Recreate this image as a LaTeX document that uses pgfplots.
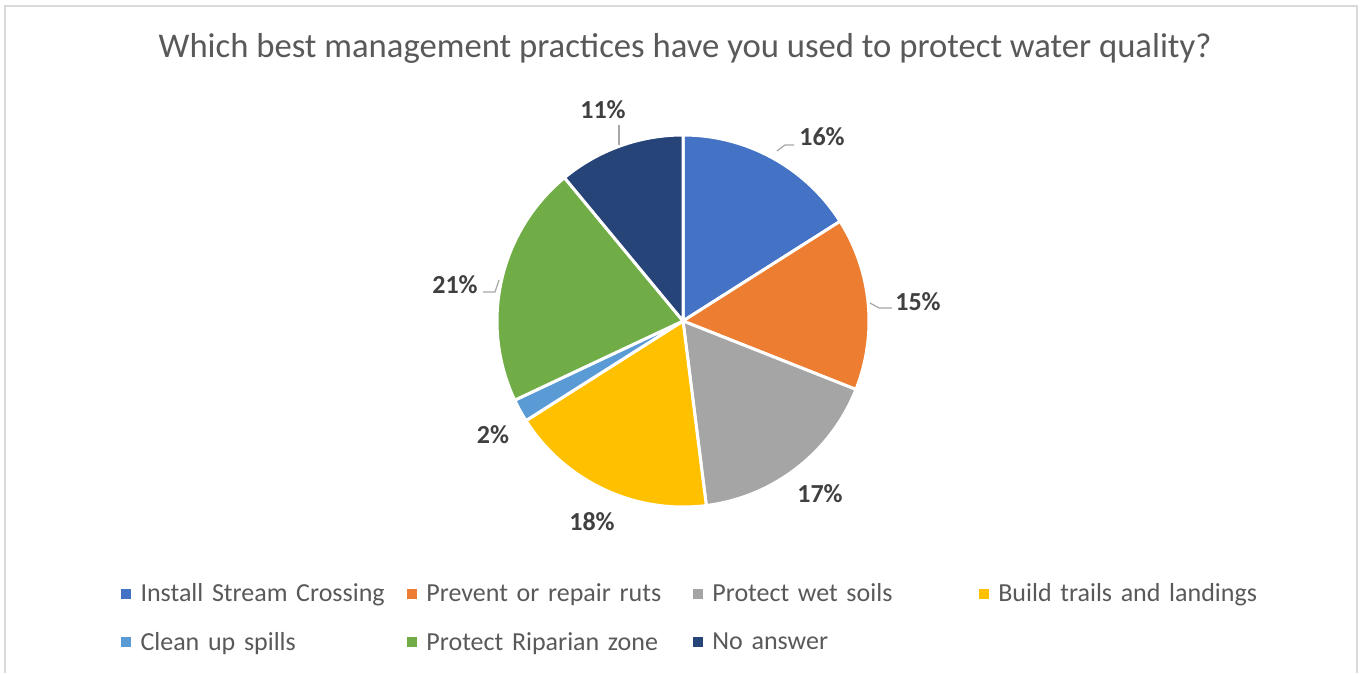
\documentclass[border=0pt]{standalone}
\usepackage{pgfplots}
\usepackage{pgfplotstable}
\usepackage{fontspec}
\setmainfont{Carlito}
\pgfplotsset{compat=1.18}
\definecolor{c0}{HTML}{4472C4}
\definecolor{c1}{HTML}{ED7D31}
\definecolor{c2}{HTML}{A5A5A5}
\definecolor{c3}{HTML}{FFC000}
\definecolor{c4}{HTML}{5B9BD5}
\definecolor{c5}{HTML}{70AD47}
\definecolor{c6}{HTML}{264478}
\definecolor{txt}{HTML}{595959}
\definecolor{lab}{HTML}{404040}
\definecolor{lead}{HTML}{A6A6A6}
\definecolor{frame}{HTML}{D9D9D9}
\pgfplotsset{sqlegend/.style={legend image code/.code={\fill[##1, draw=none] (0pt,-3.6pt) rectangle (7.2pt,3.6pt);}}}
% value, label x, label y (pixels from top)
\pgfplotstableread{
value lx ly
16 822 137
15 918 302
17 820 494
18 592 522
2 493 435
21 455 285
11 603 110
}\piedata
\begin{document}
\begin{tikzpicture}
\begin{axis}[
  width=1022.25pt, height=504.75pt, scale only axis,
  xmin=0, xmax=1363, ymin=0, ymax=673,
  hide axis, clip=false,
  legend columns=4,
  legend cell align=left,
  legend style={draw=none, fill=none, inner sep=0pt,
    at={(axis cs:121,55)}, anchor=west,
    font=\fontsize{19.5}{23}\selectfont\color{txt},
    /tikz/every odd column/.append style={column sep=5.25pt},
    /tikz/every even column/.append style={text width=198pt},
    row sep=17.25pt},
]
\path (axis cs:0,0) rectangle (axis cs:1363,673);
\draw[frame, line width=1.1pt] (axis cs:5,0) -- (axis cs:5,667) -- (axis cs:1357,667) -- (axis cs:1357,0);
\node[txt, font=\fontsize{26}{30}\selectfont] at (axis cs:685,625) {Which best management practices have you used to protect water quality?};
\def\astart{90}
\pgfplotsforeachungrouped \i in {0,...,6}{%
  \pgfplotstablegetelem{\i}{value}\of\piedata \let\v\pgfplotsretval
  \pgfplotstablegetelem{\i}{lx}\of\piedata \let\lx\pgfplotsretval
  \pgfplotstablegetelem{\i}{ly}\of\piedata \let\ly\pgfplotsretval
  \pgfmathsetmacro\aend{\astart-3.6*\v}%
  \pgfmathsetmacro\lyy{673-\ly}%
  \edef\cmd{\noexpand\fill[c\i, draw=white, line width=2.25pt, line join=round] (axis cs:683,352) -- ++(\astart:139.5pt) arc[start angle=\astart, end angle=\aend, radius=139.5pt] -- cycle;
    \noexpand\node[lab, font=\noexpand\fontsize{19.5}{23}\noexpand\selectfont\noexpand\bfseries] at (axis cs:\lx,\lyy) {\v\noexpand\%};}%
  \cmd
  \let\astart\aend
}
% leader lines
\draw[lead, line width=0.9pt] (axis cs:777,522) -- (axis cs:785,528) -- (axis cs:794,528);
\draw[lead, line width=0.9pt] (axis cs:870,370) -- (axis cs:879,365) -- (axis cs:892,365);
\draw[lead, line width=0.9pt] (axis cs:499,393) -- (axis cs:495,381) -- (axis cs:483,381);
\draw[lead, line width=0.9pt] (axis cs:619,548) -- (axis cs:619,528);
\addlegendimage{sqlegend, fill=c0}\addlegendentry{Install Stream Crossing}
\addlegendimage{sqlegend, fill=c1}\addlegendentry{Prevent or repair ruts}
\addlegendimage{sqlegend, fill=c2}\addlegendentry{Protect wet soils}
\addlegendimage{sqlegend, fill=c3}\addlegendentry{Build trails and landings}
\addlegendimage{sqlegend, fill=c4}\addlegendentry{Clean up spills}
\addlegendimage{sqlegend, fill=c5}\addlegendentry{Protect Riparian zone}
\addlegendimage{sqlegend, fill=c6}\addlegendentry{No answer}
\end{axis}
\end{tikzpicture}
\end{document}
